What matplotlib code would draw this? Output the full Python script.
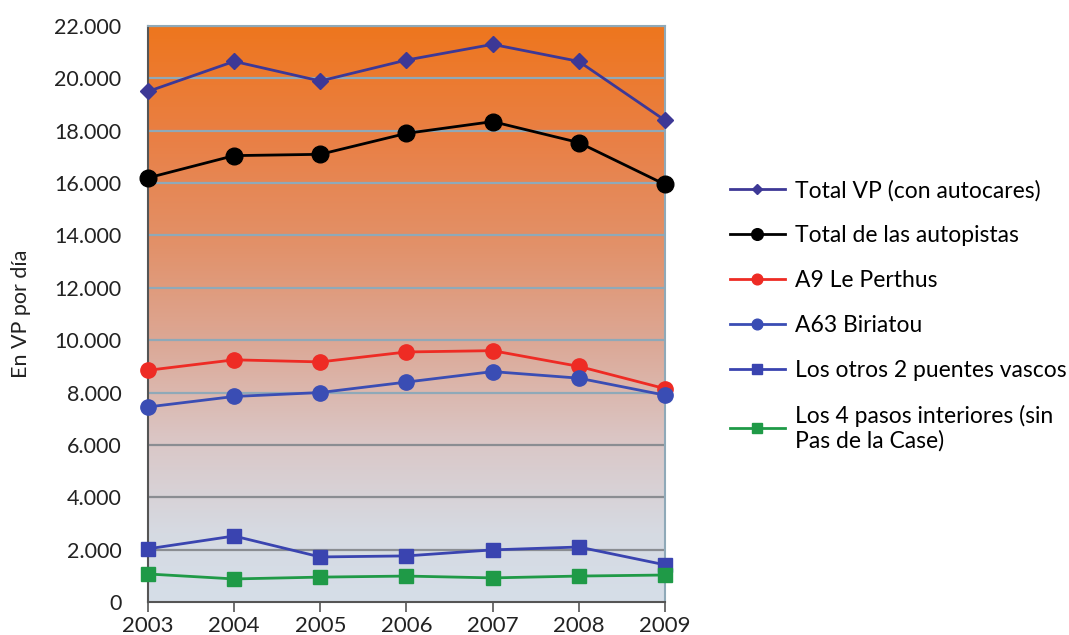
import numpy as np
import matplotlib
matplotlib.use("Agg")
import matplotlib.pyplot as plt
from matplotlib.colors import LinearSegmentedColormap
from matplotlib.ticker import FuncFormatter

plt.rcParams['font.family'] = ['Lato', 'DejaVu Sans']

years = [2003, 2004, 2005, 2006, 2007, 2008, 2009]
total_vp = [19500, 20650, 19900, 20700, 21300, 20650, 18400]
total_autopistas = [16200, 17050, 17100, 17900, 18350, 17550, 15950]
a9_le_perthus = [8850, 9250, 9170, 9550, 9600, 9000, 8150]
a63_biriatou = [7450, 7850, 8000, 8400, 8800, 8550, 7900]
otros_2_puentes = [2030, 2520, 1720, 1760, 1990, 2100, 1420]
cuatro_pasos = [1070, 880, 950, 990, 920, 990, 1030]

labels = ["Total VP (con autocares)", "Total de las autopistas", "A9 Le Perthus",
          "A63 Biriatou", "Los otros 2 puentes vascos",
          "Los 4 pasos interiores (sin\nPas de la Case)"]
yticks = list(range(0, 22001, 2000))

fig = plt.figure(figsize=(10.69, 6.35), dpi=100)
ax = fig.add_axes([0.1384, 0.052, 0.4836, 0.907])

ax.set_xlim(2003, 2009)
ax.set_ylim(0, 22000)

# gradient background
cmap = LinearSegmentedColormap.from_list("bg", [
    (0.0, (213/255, 222/255, 232/255)),
    (0.12, (214/255, 218/255, 226/255)),
    (0.27, (218/255, 200/255, 200/255)),
    (0.45, (220/255, 168/255, 150/255)),
    (0.62, (226/255, 145/255, 105/255)),
    (0.80, (233/255, 128/255, 70/255)),
    (1.0, (238/255, 118/255, 30/255)),
])
grad = np.linspace(0, 1, 256).reshape(-1, 1)
ax.imshow(grad, aspect='auto', cmap=cmap, origin='lower',
          extent=(2003, 2009, 0, 22000), zorder=0)

for yv in yticks[1:]:
    col = '#8fa9b8' if yv >= 8000 else '#8a8d92'
    ax.axhline(yv, color=col, lw=1.6, zorder=1)

lw = 2.0
ax.plot(years, total_vp, color='#3d3896', marker='D', ms=8, lw=lw, label=labels[0], zorder=5, clip_on=False)
ax.plot(years, total_autopistas, color='black', marker='o', ms=12, lw=lw, label=labels[1], zorder=5, clip_on=False)
ax.plot(years, a9_le_perthus, color='#ee2b24', marker='o', ms=11, lw=lw, label=labels[2], zorder=5, clip_on=False)
ax.plot(years, a63_biriatou, color='#3a4db4', marker='o', ms=11, lw=lw, label=labels[3], zorder=5, clip_on=False)
ax.plot(years, otros_2_puentes, color='#3a44b0', marker='s', ms=10, lw=lw, label=labels[4], zorder=5, clip_on=False)
ax.plot(years, cuatro_pasos, color='#1f9a47', marker='s', ms=10, lw=lw, label=labels[5], zorder=5, clip_on=False)

ax.set_yticks(yticks)
ax.yaxis.set_major_formatter(FuncFormatter(lambda v, p: f"{int(v):,}".replace(",", ".")))
ax.set_xticks(years)
ax.tick_params(axis='y', length=0, labelsize=15.5, pad=19)
ax.tick_params(axis='x', length=7, width=1.2, color='#555555', labelsize=16, pad=3)
for lab in ax.get_xticklabels() + ax.get_yticklabels():
    lab.set_color('#222222')

for s in ['left', 'bottom']:
    ax.spines[s].set_color('#555555')
    ax.spines[s].set_linewidth(1.5)
for s in ['top', 'right']:
    ax.spines[s].set_color('#8fa9b8')
    ax.spines[s].set_linewidth(1.5)

ax.set_ylabel("En VP por día", fontsize=15.5, labelpad=17, color='#222222')

handles, labs = ax.get_legend_handles_labels()
leg = fig.legend(handles, labs, loc='upper left', bbox_to_anchor=(0.672, 0.735),
                 frameon=False, fontsize=16.5, handlelength=2.4, handletextpad=0.45,
                 labelspacing=1.04, borderpad=0, markerscale=0.7)

fig.savefig("out.png", dpi=100)
